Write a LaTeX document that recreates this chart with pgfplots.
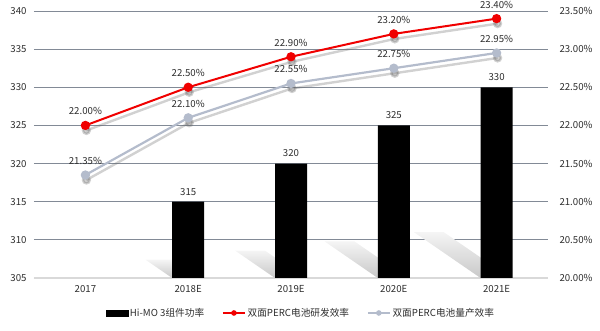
\documentclass[border=0pt]{standalone}
\usepackage{pgfplots}
\pgfplotsset{compat=1.18}
\usepackage{fontspec}
\setmainfont{Noto Sans CJK SC}
\definecolor{gridc}{RGB}{130,138,150}
\definecolor{axc}{RGB}{217,217,217}
\definecolor{redl}{RGB}{240,0,0}
\definecolor{grayl}{RGB}{180,188,204}
\definecolor{txt}{RGB}{45,45,45}
\definecolor{shad}{RGB}{200,200,200}
\begin{document}
\begin{tikzpicture}[font=\fontsize{9.7}{11}\selectfont, text=txt]
\pgfplotsset{
  base/.style={
    scale only axis, width=514bp, height=267bp,
    at={(34bp,53bp)}, anchor=south west,
    xmin=-0.5, xmax=4.5,
    major tick length=0pt,
    /pgf/number format/assume math mode=true,
    tick label style={text=txt},
  }
}
\begin{axis}[base,
  ymin=305, ymax=340, ytick={305,310,...,340},
  ymajorgrids, grid style={gridc, line width=0.9bp},
  axis x line*=bottom, axis y line*=left,
  x axis line style={axc, line width=1.2bp, -},
  y axis line style={draw=none},
  xtick={0,...,4}, xticklabels={2017,2018E,2019E,2020E,2021E},
  xticklabel style={yshift=-4bp},
  yticklabel style={xshift=-4bp},
  clip=true]
% bar shadows
\addplot[draw=none, top color=black!4, bottom color=shad] coordinates {(0.585,307.4) (0.875,307.4) (1.136,305) (0.844,305)} -- cycle;
\addplot[draw=none, top color=black!4, bottom color=shad] coordinates {(1.456,308.6) (1.746,308.6) (2.134,305) (1.844,305)} -- cycle;
\addplot[draw=none, top color=black!4, bottom color=shad] coordinates {(2.327,309.8) (2.617,309.8) (3.134,305) (2.844,305)} -- cycle;
\addplot[draw=none, top color=black!4, bottom color=shad] coordinates {(3.197,311.0) (3.487,311.0) (4.134,305) (3.844,305)} -- cycle;
% bars
\addplot[ybar, bar width=32bp, fill=black, draw=none,
  nodes near coords, nodes near coords style={text=txt, yshift=3bp}]
  coordinates {(1,315) (2,320) (3,325) (4,330)};
\end{axis}
\begin{axis}[base,
  ymin=20, ymax=23.5, ytick={20,20.5,...,23.5},
  axis x line=none, axis y line*=right,
  y axis line style={draw=none},
  yticklabel={\pgfmathprintnumber[fixed,fixed zerofill,precision=2]{\tick}\%},
  yticklabel style={xshift=8bp},
  legend columns=3,
  legend style={draw=none, fill=none, at={(0.519,-0.131)}, anchor=center,
    font=\fontsize{9.7}{11}\selectfont, text=txt,
    /tikz/every even column/.append style={column sep=16bp}},
  clip=false]
\addlegendimage{legend image code/.code={\fill[black] (0bp,-3bp) rectangle (22bp,3bp);}}
\addlegendentry{Hi-MO 3组件功率}
% shadows of lines
\addplot[black!60, opacity=0.3, line width=2.4bp, yshift=-5bp, xshift=1bp, mark=*, mark size=3.4bp, forget plot]
  coordinates {(0,22.00) (1,22.50) (2,22.90) (3,23.20) (4,23.40)};
\addplot[black!60, opacity=0.3, line width=2.4bp, yshift=-5bp, xshift=1bp, mark=*, mark size=3.4bp, forget plot]
  coordinates {(0,21.35) (1,22.10) (2,22.55) (3,22.75) (4,22.95)};
% lines
\addplot[redl, line width=2bp, mark=*, mark size=3.6bp,
  mark options={fill=redl, draw=redl},
  legend image code/.code={\draw[line width=1.5bp, mark size=2bp, mark repeat=2, mark phase=2] plot coordinates {(0bp,0bp) (11bp,0bp) (22bp,0bp)};},
  point meta=y,
  nodes near coords={\pgfmathprintnumber[fixed,fixed zerofill,precision=2]{\pgfplotspointmeta}\%},
  nodes near coords style={text=txt, yshift=6bp}]
  coordinates {(0,22.00) (1,22.50) (2,22.90) (3,23.20) (4,23.40)};
\addlegendentry{双面PERC电池研发效率}
\addplot[grayl, line width=2.2bp, mark=*, mark size=3.5bp,
  mark options={fill=grayl, draw=grayl},
  legend image code/.code={\draw[line width=1.5bp, mark size=2bp, mark repeat=2, mark phase=2] plot coordinates {(0bp,0bp) (11bp,0bp) (22bp,0bp)};},
  point meta=y,
  nodes near coords={\pgfmathprintnumber[fixed,fixed zerofill,precision=2]{\pgfplotspointmeta}\%},
  nodes near coords style={text=txt, yshift=6bp}]
  coordinates {(0,21.35) (1,22.10) (2,22.55) (3,22.75) (4,22.95)};
\addlegendentry{双面PERC电池量产效率}
\end{axis}
\pgfresetboundingbox
\path (0,0) rectangle (600bp,331bp);
\end{tikzpicture}
\end{document}
